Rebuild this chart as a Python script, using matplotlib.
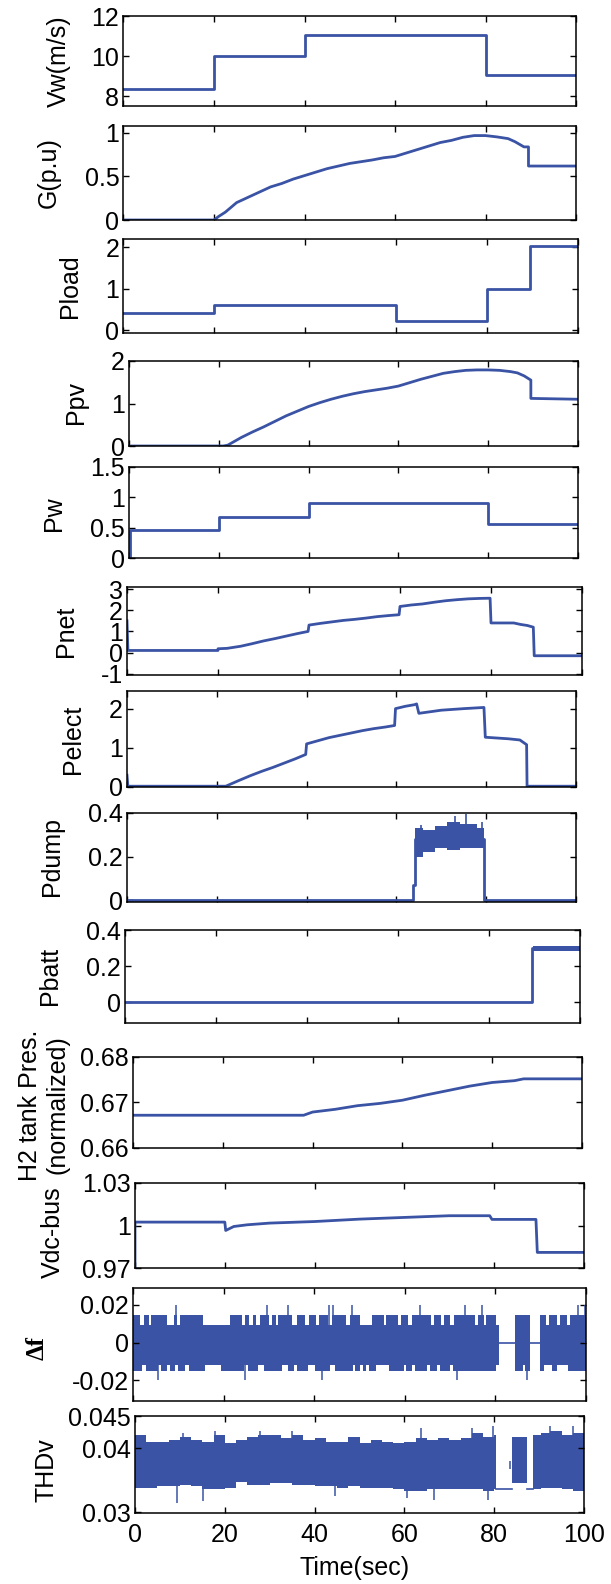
import matplotlib.pyplot as plt

plt.rcParams['font.family'] = ['Liberation Sans', 'DejaVu Sans']
plt.rcParams['axes.unicode_minus'] = False

W, H = 611, 1584
BLUE = '#3a53a4'
LW = 2.0

# ---- data (time in seconds) ----
vw_t = [0, 20, 40, 80, 100]
vw = [8.35, 10, 11.05, 9.05, 9.05]

g_t = [0, 20, 21, 22.5, 25, 27.5, 30, 32.5, 35, 37.5, 40, 42.5, 45, 47.5, 50, 52.5, 55,
       57.5, 60, 62.5, 65, 67.5, 70, 72.5, 75, 77.5, 80, 82.5, 85, 86.5, 87.5, 88.5, 89.5,
       89.5, 100]
g = [0, 0, 0.04, 0.09, 0.20, 0.26, 0.32, 0.38, 0.42, 0.47, 0.51, 0.55, 0.59, 0.62, 0.65,
     0.67, 0.69, 0.715, 0.73, 0.77, 0.81, 0.85, 0.89, 0.915, 0.95, 0.97, 0.97, 0.955, 0.935,
     0.90, 0.87, 0.84, 0.84, 0.62, 0.62]

pload_t = [0, 20, 60, 80, 89.5, 100]
pload = [0.41, 0.6, 0.21, 1.0, 2.03, 2.03]

ppv_t = [0, 21, 22, 25, 27.5, 30, 32.5, 35, 37.5, 40, 42.5, 45, 47.5, 50, 52.5, 55, 57.5,
         60, 62.5, 65, 67.5, 70, 72.5, 75, 77.5, 80, 82.5, 85, 86.5, 88, 89.5, 89.5, 100]
ppv = [0, 0, 0.02, 0.2, 0.33, 0.45, 0.58, 0.71, 0.82, 0.93, 1.02, 1.1, 1.17, 1.23, 1.28,
       1.32, 1.36, 1.41, 1.49, 1.57, 1.64, 1.71, 1.75, 1.78, 1.79, 1.79, 1.78, 1.75, 1.72,
       1.65, 1.55, 1.12, 1.1]

pw_t = [0, 0.2, 20, 40, 80, 100]
pw = [0, 0.46, 0.68, 0.91, 0.56, 0.56]

pnet_t = [0, 0.2, 20, 20, 22, 25, 27.5, 30, 32.5, 35, 37.5, 39.8, 40, 42.5, 45, 47.5, 50,
          52.5, 55, 57.5, 59.8, 60, 62.5, 65, 67.5, 70, 72.5, 75, 77.5, 79.8, 80, 85, 86.5,
          88, 89.3, 89.5, 100]
pnet = [1.5, 0.1, 0.1, 0.18, 0.2, 0.3, 0.42, 0.55, 0.66, 0.78, 0.9, 1.0, 1.3, 1.38, 1.45,
        1.52, 1.57, 1.63, 1.7, 1.75, 1.79, 2.18, 2.25, 2.3, 2.38, 2.45, 2.5, 2.54, 2.56,
        2.57, 1.4, 1.4, 1.33, 1.28, 1.2, -0.15, -0.15]

pel_t = [0, 0.2, 22, 25, 27.5, 30, 32.5, 35, 37.5, 39.8, 40, 42.5, 45, 47.5, 50, 52.5, 55,
         57.5, 59.6, 59.8, 62, 64, 64.5, 65, 67.5, 70, 75, 79.5, 79.8, 85, 87.5, 88.5, 89,
         89.1, 100]
pel = [0.3, 0.02, 0.02, 0.17, 0.29, 0.4, 0.5, 0.61, 0.72, 0.83, 1.1, 1.18, 1.26, 1.32,
       1.38, 1.44, 1.49, 1.53, 1.57, 2.0, 2.06, 2.1, 2.12, 1.88, 1.92, 1.96, 2.0, 2.03,
       1.27, 1.23, 1.2, 1.12, 1.08, 0.02, 0.02]

pd_t = [0, 63.6, 63.6, 64.1, 64.1, 79.5, 79.5, 100]
pd = [0, 0, 0.07, 0.07, 0.28, 0.28, 0, 0]
pd_band_t = [64.1, 66, 68.6, 71.2, 74.2, 77.9, 79.5]
pd_hi = [0.33, 0.32, 0.34, 0.36, 0.35, 0.33, 0.33]
pd_lo = [0.20, 0.22, 0.24, 0.23, 0.24, 0.24, 0.24]
pd_spk_t = [65.5, 73, 75.5, 79]
pd_spk = [0.345, 0.385, 0.395, 0.36]

pb_t = [0, 89.5, 89.5, 100]
pb = [0, 0, 0.3, 0.3]
pb_band_t = [89.6, 100]
pb_hi = [0.31, 0.31]
pb_lo = [0.285, 0.285]

h2_t = [0, 38, 40, 45, 50, 55, 60, 65, 70, 75, 80, 85, 87, 100]
h2 = [0.6672, 0.6672, 0.6679, 0.6685, 0.6693, 0.6698, 0.6705, 0.6716, 0.6726, 0.6736,
      0.6744, 0.6748, 0.6752, 0.6752]

vdc_t = [0, 0, 20, 20.2, 22, 25, 30, 40, 50, 60, 70, 79, 79.5, 89.3, 89.6, 100]
vdc = [0.97, 1.0024, 1.0024, 0.9965, 0.9993, 1.0005, 1.0017, 1.0028, 1.0045, 1.0057,
       1.0069, 1.0069, 1.0043, 1.0043, 0.981, 0.981]

# frequency deviation: dense band plus excursions
df_band = [(0, 80.7), (84.3, 87.6), (89.8, 100)]
df_flat = [(80.7, 84.3), (87.6, 89.8)]
df_in = (-0.0117, 0.0094)
df_out = (-0.0153, 0.0147)
df_up_hi = [(0, 1.5), (2.5, 3.5), (4, 7.5), (9, 9.8), (10.4, 15.5), (21.4, 24), (24.8, 25.6),
            (26.5, 27.2), (28, 30), (30.6, 31.5), (32, 35), (36.2, 38), (38.8, 40.5),
            (41, 43), (44, 47), (48, 50), (52.7, 55.3), (55.9, 58.5), (59.2, 60.8),
            (61.5, 65.8), (66.5, 68), (68.6, 70), (70.8, 75.5), (76.2, 77.5), (78, 80.2),
            (84.3, 87.6), (89.8, 91.2), (91.8, 93.7), (94.3, 95.8), (96.4, 100)]
df_lo_lo = [(0, 2), (2.8, 5.6), (6.2, 7.4), (8.2, 9.2), (10, 11.5), (12.4, 15.8),
            (19.5, 24.5), (25.3, 27.6), (29, 33), (34.3, 35.5), (36.3, 38.6), (40.2, 43.5),
            (44.5, 48.5), (49, 50), (50.8, 51.4), (52, 53.6), (56.5, 59.8), (60.3, 61.6),
            (62.2, 65), (65.5, 67), (67.8, 70), (70.6, 80.2), (84.3, 86), (86.5, 87.6),
            (89.8, 90.8), (92.4, 93.5), (96, 100)]
df_spk_up = [9.4, 29.5, 34.3, 43.3, 44.1, 48.3, 63.4, 73.3, 77, 98.2, 99.8]
df_spk_dn = [5.6, 24.7, 41.8, 71.5, 86.9]

# voltage THD: envelope of the dense band
thd_t = [0, 2.5, 5, 7.5, 10, 12.5, 15, 17.5, 20, 22.5, 25, 27.5, 30, 32.5, 35, 37.5, 40,
         42.5, 45, 47.5, 50, 52.5, 55, 57.5, 60, 62.5, 65, 67.5, 70, 72.5, 75, 77.5, 80, 80.5]
thd_hi = [0.0420, 0.0410, 0.0410, 0.0413, 0.0418, 0.0413, 0.0410, 0.0420, 0.0408, 0.0413,
          0.0418, 0.0420, 0.0420, 0.0415, 0.0420, 0.0413, 0.0415, 0.0410, 0.0410, 0.0418,
          0.0408, 0.0413, 0.0410, 0.0408, 0.0410, 0.0415, 0.0413, 0.0415, 0.0413, 0.0415,
          0.0423, 0.0418, 0.0420, 0.0420]
thd_lo = [0.0338, 0.0338, 0.0341, 0.0341, 0.0343, 0.0341, 0.0336, 0.0336, 0.0338, 0.0348,
          0.0343, 0.0343, 0.0346, 0.0346, 0.0343, 0.0343, 0.0341, 0.0341, 0.0338, 0.0341,
          0.0338, 0.0338, 0.0338, 0.0336, 0.0333, 0.0333, 0.0336, 0.0336, 0.0336, 0.0336,
          0.0336, 0.0333, 0.0336, 0.0336]
thd2_t = [83.9, 87.3]
thd2_hi = [0.0418, 0.0418]
thd2_lo = [0.0345, 0.0345]
thd3_t = [88.7, 90.5, 92.5, 95, 97.5, 100]
thd3_hi = [0.0420, 0.0423, 0.0427, 0.0420, 0.0423, 0.0415]
thd3_lo = [0.0336, 0.0338, 0.0338, 0.0336, 0.0333, 0.0333]
thd_flat = [(80.5, 83.9), (87.3, 88.7)]
thd_flat_v = 0.0336
thd_spk_up_t = [10.8, 17.8, 27.8, 34.9, 63.7, 75, 79.8, 83.5, 92.5, 97.5]
thd_spk_up = [0.0424, 0.0426, 0.0426, 0.0426, 0.0431, 0.0431, 0.0434, 0.0367, 0.0435, 0.0434]
thd_spk_dn_t = [9.3, 15.1, 44.5, 60.5, 66.5, 78.7]
thd_spk_dn = [0.0315, 0.0318, 0.0326, 0.0322, 0.0320, 0.0320]

xticks = [0, 20, 40, 60, 80, 100]

fig = plt.figure(figsize=(W / 100, H / 100), dpi=100)


def make_ax(left, right, top, bottom, ylim, yticks, ylabels):
    ax = fig.add_axes([left / W, 1 - bottom / H, (right - left) / W, (bottom - top) / H])
    ax.set_xlim(0, 100)
    ax.set_ylim(*ylim)
    ax.set_xticks(xticks)
    ax.set_yticks(yticks)
    ax.set_yticklabels(ylabels)
    ax.tick_params(direction='in', top=True, right=True, length=4, width=1,
                   labelsize=18, pad=3)
    ax.tick_params(axis='x', labelbottom=False)
    for s in ax.spines.values():
        s.set_linewidth(1.1)
    return ax


def ylab(x, y, text, **kw):
    fig.text(x / W, 1 - y / H, text, rotation=90, ha='center', va='center',
             fontsize=18, **kw)


# Vw
ax = make_ax(123.5, 576, 16, 106, (7.5, 12), [8, 10, 12], ['8', '10', '12'])
ax.plot(vw_t, vw, color=BLUE, lw=LW, drawstyle='steps-post')
ylab(59, 61, 'Vw(m/s)')

# G
ax = make_ax(123.5, 576, 126, 220, (0, 1.08), [0, 0.5, 1], ['0', '0.5', '1'])
ax.plot(g_t, g, color=BLUE, lw=LW)
ylab(49, 173, 'G(p.u)')

# Pload
ax = make_ax(123.5, 578, 239, 333, (-0.07, 2.2), [0, 1, 2], ['0', '1', '2'])
ax.plot(pload_t, pload, color=BLUE, lw=LW, drawstyle='steps-post')
ylab(70, 286, 'Pload')

# Ppv
ax = make_ax(129, 578, 361, 446, (0, 2), [0, 1, 2], ['0', '1', '2'])
ax.plot(ppv_t, ppv, color=BLUE, lw=LW)
ylab(76, 403, 'Ppv')

# Pw
ax = make_ax(129, 578, 467, 558, (0, 1.5), [0, 0.5, 1, 1.5], ['0', '0.5', '1', '1.5'])
ax.plot(pw_t, pw, color=BLUE, lw=LW, drawstyle='steps-post')
ylab(54, 514, 'Pw')

# Pnet
ax = make_ax(127, 582, 587, 675, (-1.06, 3.1), [-1, 0, 1, 2, 3], ['-1', '0', '1', '2', '3'])
ax.plot(pnet_t, pnet, color=BLUE, lw=LW)
ylab(66, 631, 'Pnet')

# Pelect
ax = make_ax(127, 576, 691, 787, (0, 2.45), [0, 1, 2], ['0', '1', '2'])
ax.plot(pel_t, pel, color=BLUE, lw=LW)
ylab(73, 739, 'Pelect')

# Pdump
ax = make_ax(127, 576, 813, 902, (-0.008, 0.4), [0, 0.2, 0.4], ['0', '0.2', '0.4'])
ax.plot(pd_t, pd, color=BLUE, lw=LW)
ax.fill_between(pd_band_t, pd_lo, pd_hi, step='post', color=BLUE, lw=0)
ax.vlines(pd_spk_t, 0.3, pd_spk, color=BLUE, lw=1.2)
ylab(52, 857, 'Pdump')

# Pbatt
ax = make_ax(125, 580, 930, 1023, (-0.115, 0.4), [0, 0.2, 0.4], ['0', '0.2', '0.4'])
ax.plot(pb_t, pb, color=BLUE, lw=LW)
ax.fill_between(pb_band_t, pb_lo, pb_hi, color=BLUE, lw=0)
ylab(50, 976, 'Pbatt')

# H2 tank pressure
ax = make_ax(133, 582, 1057, 1148, (0.66, 0.68), [0.66, 0.67, 0.68], ['0.66', '0.67', '0.68'])
ax.plot(h2_t, h2, color=BLUE, lw=LW)
ylab(44, 1105, 'H2 tank Pres.\n(normalized)')

# Vdc-bus
ax = make_ax(135, 584, 1183, 1268, (0.97, 1.03), [0.97, 1, 1.03], ['0.97', '1', '1.03'])
ax.plot(vdc_t, vdc, color=BLUE, lw=LW)
ax.fill_between([89.6, 100], 0.9803, 0.9818, color=BLUE, lw=0)
ylab(53, 1232, 'Vdc-bus')

# delta f
ax = make_ax(133, 586, 1288, 1401, (-0.031, 0.029), [-0.02, 0, 0.02], ['-0.02', '0', '0.02'])
for a, b in df_band:
    ax.fill_between([a, b], df_in[0], df_in[1], color=BLUE, lw=0)
for a, b in df_up_hi:
    ax.fill_between([a, b], df_in[1], df_out[1], color=BLUE, lw=0)
for a, b in df_lo_lo:
    ax.fill_between([a, b], df_out[0], df_in[0], color=BLUE, lw=0)
for a, b in df_flat:
    ax.plot([a, b], [0, 0], color=BLUE, lw=1.2)
ax.vlines(df_spk_up, 0, 0.02, color=BLUE, lw=1.1)
ax.vlines(df_spk_dn, -0.02, 0, color=BLUE, lw=1.1)
ylab(37, 1348, '\u0394f', family=['Liberation Serif', 'DejaVu Serif'], fontweight='bold')

# THDv
ax = make_ax(135, 584, 1416, 1513, (0.0299, 0.045), [0.03, 0.04, 0.045],
             ['0.03', '0.04', '0.045'])
ax.fill_between(thd_t, thd_lo, thd_hi, step='post', color=BLUE, lw=0)
ax.fill_between(thd2_t, thd2_lo, thd2_hi, step='post', color=BLUE, lw=0)
ax.fill_between(thd3_t, thd3_lo, thd3_hi, step='post', color=BLUE, lw=0)
for a, b in thd_flat:
    ax.plot([a, b], [thd_flat_v, thd_flat_v], color=BLUE, lw=1.2)
ax.vlines(thd_spk_up_t, 0.038, thd_spk_up, color=BLUE, lw=1.1)
ax.vlines(thd_spk_dn_t, thd_spk_dn, 0.037, color=BLUE, lw=1.1)
ax.tick_params(axis='x', labelbottom=True, pad=7)
ax.set_xticklabels([str(v) for v in xticks])
ylab(46, 1470, 'THDv')

fig.text(355 / W, 1 - 1568 / H, 'Time(sec)', ha='center', va='center', fontsize=18)

fig.savefig('out.png', dpi=100)
